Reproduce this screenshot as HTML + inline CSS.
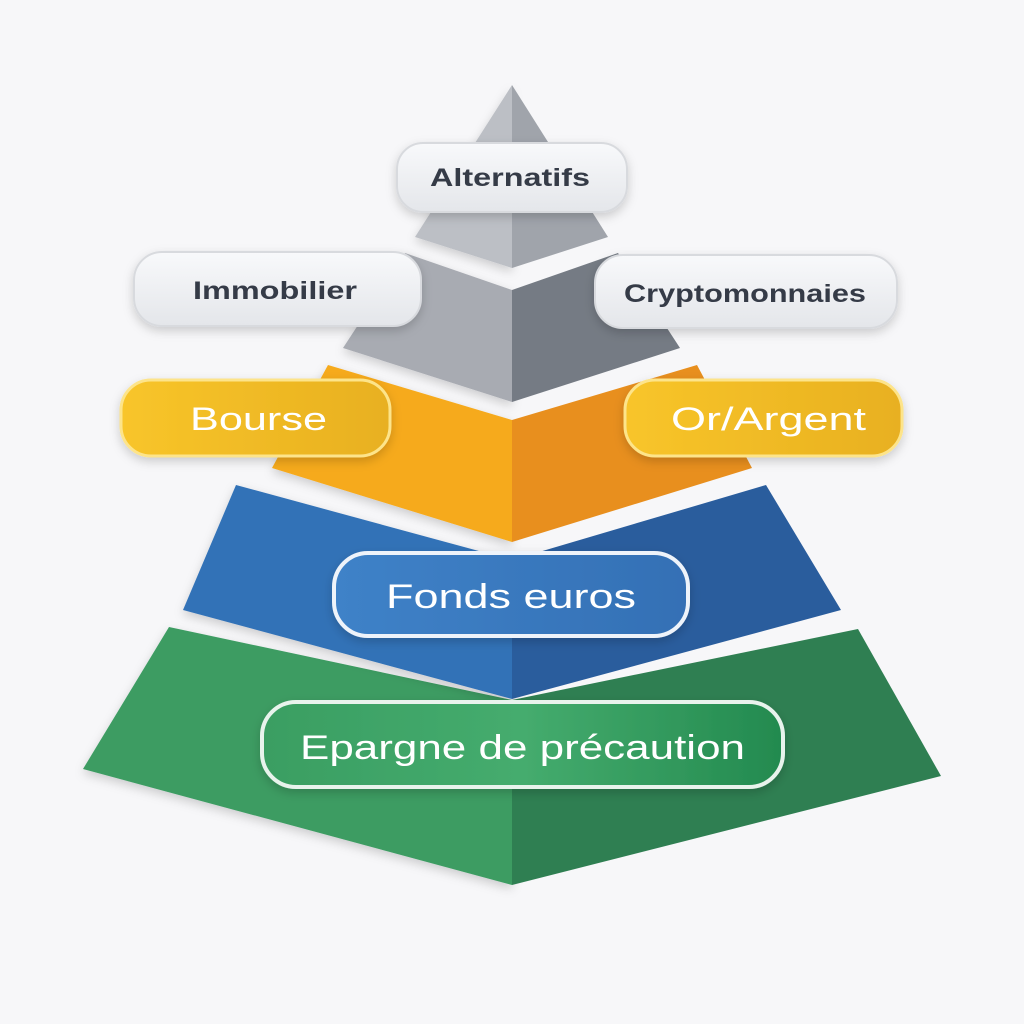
<!DOCTYPE html>
<html><head><meta charset="utf-8"><style>
html,body{margin:0;padding:0;background:#f7f7f9;}
svg{display:block}
text{font-family:"Liberation Sans",sans-serif;}
</style></head><body>
<svg width="1024" height="1024" viewBox="0 0 1024 1024" xmlns="http://www.w3.org/2000/svg">
<defs>
<filter id="sh" x="-20%" y="-30%" width="140%" height="170%"><feDropShadow dx="0" dy="4" stdDeviation="5" flood-color="#000" flood-opacity="0.18"/></filter>
<linearGradient id="gp" x1="0" y1="0" x2="0" y2="1"><stop offset="0" stop-color="#f8f9fb"/><stop offset="1" stop-color="#e4e6ea"/></linearGradient>
<linearGradient id="yp" x1="0" y1="0" x2="1" y2="0"><stop offset="0" stop-color="#f8c52a"/><stop offset="1" stop-color="#e8b020"/></linearGradient>
<linearGradient id="bp" x1="0" y1="0" x2="1" y2="0"><stop offset="0" stop-color="#3f82c8"/><stop offset="1" stop-color="#3470b5"/></linearGradient>
<linearGradient id="grp" x1="0" y1="0" x2="1" y2="0"><stop offset="0" stop-color="#3a9e62"/><stop offset="0.5" stop-color="#45ac6e"/><stop offset="1" stop-color="#238a4f"/></linearGradient>
</defs>
<rect width="1024" height="1024" fill="#f7f7f9"/>

<!-- green tier -->
<polygon points="169,627 512,700 512,885 83,769" fill="#3c9c62" filter="url(#sh)"/>
<polygon points="512,700 858,629 941,776 512,885" fill="#2f7f52"/>
<!-- blue tier -->
<polygon points="236,485 512,560 512,699 183,610" fill="#3272b7" filter="url(#sh)"/>
<polygon points="512,560 766,485 841,610 512,699" fill="#2a5d9d"/>
<!-- yellow tier -->
<polygon points="328,365 512,420 512,542 272,468" fill="#f6aa1c" filter="url(#sh)"/>
<polygon points="512,420 697,365 752,468 512,542" fill="#e88f1e"/>
<!-- gray 2 -->
<polygon points="405,253 512,290 512,402 343,348" fill="#a8abb2" filter="url(#sh)"/>
<polygon points="512,290 618,253 680,348 512,402" fill="#757b84"/>
<!-- gray top -->
<polygon points="512,85 512,268 415,237" fill="#bcbfc5" filter="url(#sh)"/>
<polygon points="512,85 608,237 512,268" fill="#a0a4ab"/>

<!-- pills -->
<g filter="url(#sh)">
<rect x="397" y="143" width="230" height="69" rx="26" fill="url(#gp)" stroke="#d8dade" stroke-width="2"/>
<rect x="134" y="252" width="287" height="74" rx="28" fill="url(#gp)" stroke="#d8dade" stroke-width="2"/>
<rect x="595" y="255" width="302" height="73" rx="28" fill="url(#gp)" stroke="#d8dade" stroke-width="2"/>
<rect x="121" y="380" width="269" height="76" rx="30" fill="url(#yp)" stroke="#fde48a" stroke-width="3"/>
<rect x="625" y="380" width="277" height="76" rx="30" fill="url(#yp)" stroke="#fde48a" stroke-width="3"/>
<rect x="334" y="553" width="354" height="83" rx="34" fill="url(#bp)" stroke="#eef3fa" stroke-width="4"/>
<rect x="262" y="702" width="521" height="85" rx="34" fill="url(#grp)" stroke="#e8f3ec" stroke-width="4"/>
</g>

<text x="430" y="186" font-size="25" font-weight="bold" fill="#353b47" textLength="160" lengthAdjust="spacingAndGlyphs">Alternatifs</text>
<text x="193" y="299" font-size="25" font-weight="bold" fill="#353b47" textLength="164" lengthAdjust="spacingAndGlyphs">Immobilier</text>
<text x="624" y="302" font-size="25" font-weight="bold" fill="#353b47" textLength="242" lengthAdjust="spacingAndGlyphs">Cryptomonnaies</text>
<text x="190" y="430" font-size="32" fill="#ffffff" textLength="137" lengthAdjust="spacingAndGlyphs">Bourse</text>
<text x="671" y="430" font-size="32" fill="#ffffff" textLength="195" lengthAdjust="spacingAndGlyphs">Or/Argent</text>
<text x="386" y="608" font-size="34" fill="#ffffff" textLength="250" lengthAdjust="spacingAndGlyphs">Fonds euros</text>
<text x="300" y="759" font-size="34" fill="#ffffff" textLength="445" lengthAdjust="spacingAndGlyphs">Epargne de précaution</text>
</svg>
</body></html>
